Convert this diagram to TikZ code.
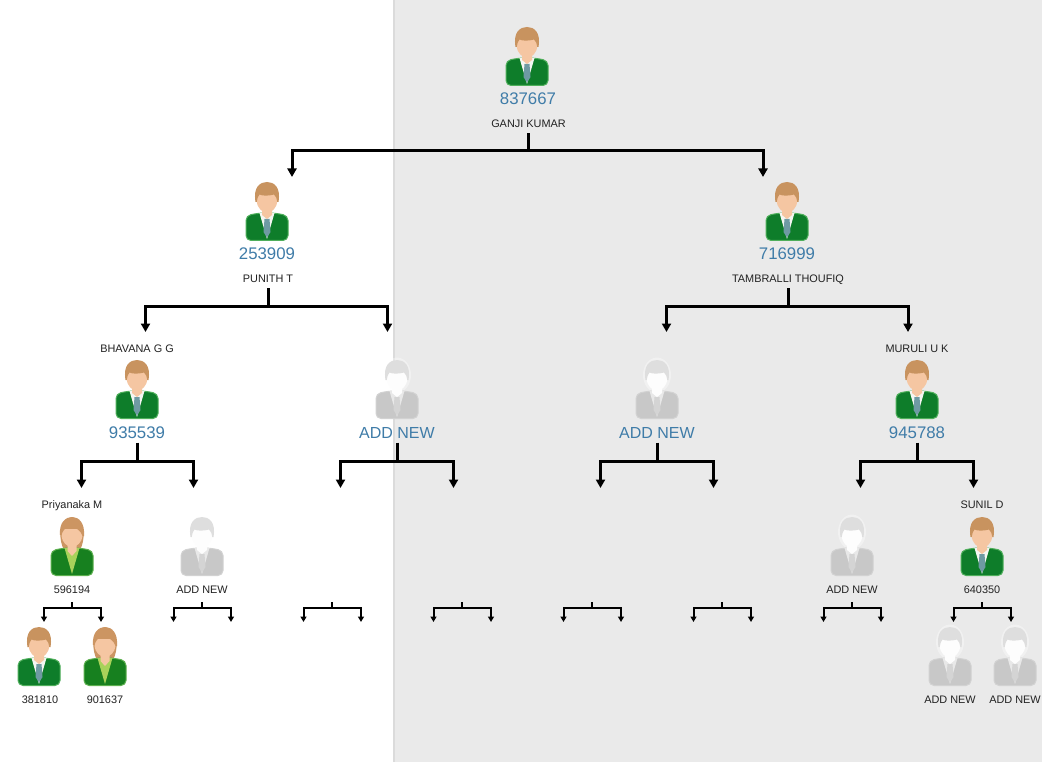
\documentclass[tikz,border=0pt]{standalone}
\usepackage{fontspec}
\setmainfont{Liberation Sans}
\usetikzlibrary{arrows.meta}
\definecolor{pagegrey}{HTML}{EAEAEA}
\definecolor{idblue}{HTML}{3F7CA8}
\definecolor{inktext}{HTML}{222222}
\tikzset{
  x=1pt,y=-1pt,
  iconbox/.style={minimum width=42pt,minimum height=59pt,inner sep=0pt,anchor=north},
  smalltext/.style={anchor=base,font=\fontsize{10.9}{12}\selectfont,text=inktext,inner xsep=0pt,inner ysep=5pt,text depth=0pt},
  smallid/.style={smalltext,inner ysep=9pt},
  bigid/.style={anchor=base,font=\fontsize{16.8}{19}\selectfont,text=idblue,inner xsep=0pt,inner ysep=4pt,text depth=0pt},
  bigadd/.style={bigid,font=\fontsize{16}{19}\selectfont},
  stemthick/.style={line width=3pt,black},
  tipthick/.style={line width=3pt,black,line join=miter,-{Triangle[width=9pt,length=8.5pt]}},
  stemthin/.style={line width=2pt,black},
  tipthin/.style={line width=2pt,black,line join=miter,-{Triangle[width=6pt,length=5.5pt]}},
}
% icon colour sets
\newcommand{\setman}{\definecolor{icbody}{HTML}{0E7D2A}\definecolor{icedge}{HTML}{4FAF5B}\definecolor{icshirt}{HTML}{F4F6F2}\definecolor{ictie}{HTML}{6E9AA3}\definecolor{ichair}{HTML}{C8935F}\definecolor{icskin}{HTML}{F5C6A2}}
\newcommand{\setghost}{\definecolor{icbody}{HTML}{C8C8C8}\definecolor{icedge}{HTML}{D2D2D2}\definecolor{icshirt}{HTML}{E8E8E8}\definecolor{ictie}{HTML}{D4D4D4}\definecolor{ichair}{HTML}{DEDEDE}\definecolor{icskin}{HTML}{FDFDFD}}
\newcommand{\setwoman}{\definecolor{icbody}{HTML}{17801F}\definecolor{icedge}{HTML}{5DB04F}\definecolor{icshirt}{HTML}{A8D25A}\definecolor{ictie}{HTML}{A8D25A}\definecolor{ichair}{HTML}{CC9562}\definecolor{icskin}{HTML}{F5C6A2}}
\newcommand{\bodyshape}{
  \fill[icbody,draw=icedge,line width=1pt,rounded corners=5pt] (-7,31) -- (-21,33.5) -- (-21,58.5) -- (21,58.5) -- (21,33.5) -- (7,31) -- cycle;
}
\newcommand{\manhead}{
  \fill[icshirt] (-7.5,31) -- (0,57) -- (7.5,31) -- cycle;
  \fill[ictie] (-2.5,37) -- (2.5,37) -- (3.5,50) -- (0,55.5) -- (-3.5,50) -- cycle;
  \fill[icskin] (-5,24) -- (-5,33) -- (0,37) -- (5,33) -- (5,24) -- cycle;
  \fill[icskin] (-10.5,12) -- (-10.5,19) .. controls (-10,25) and (-5,31) .. (0,31) .. controls (5,31) and (10,25) .. (10.5,19) -- (10.5,12) -- cycle;
  \fill[ichair] (-11.5,20) .. controls (-14,5) and (-7,0) .. (0,0) .. controls (7,0) and (14,5) .. (11.5,20) -- (10.3,20) .. controls (10,17) and (9,14) .. (7,12.5) .. controls (2,14) and (-5,14) .. (-7.5,12.5) .. controls (-9,14) and (-10,17) .. (-10.3,20) -- cycle;
}
\newcommand{\womanhead}{
  \fill[ichair] (-8,33) .. controls (-13,24) and (-15,3) .. (0,0) .. controls (15,3) and (13,24) .. (8,33) -- cycle;
  \bodyshape
  \fill[icshirt] (-7.5,31) -- (0,57) -- (7.5,31) -- cycle;
  \fill[icskin] (-4.5,24) -- (-4.5,34) -- (0,39) -- (4.5,34) -- (4.5,24) -- cycle;
  \fill[icskin] (-10.5,12) -- (-10.5,19) .. controls (-10,25) and (-5,30) .. (0,30) .. controls (5,30) and (10,25) .. (10.5,19) -- (10.5,12) -- cycle;
  \fill[ichair] (-12,18) .. controls (-13,5) and (-6,0) .. (0,0) .. controls (7,0) and (13,6) .. (12,19) -- (10.5,19) .. controls (9,14) and (4,10) .. (-3,9) .. controls (-7,11) and (-9.5,14) .. (-10.5,18) -- cycle;
}
% person: name, x, top y
\newcommand{\man}[3]{\node[iconbox] (#1) at (#2,#3) {};
  \begin{scope}[shift={(#2,#3)}]\setman\bodyshape\manhead\end{scope}}
\newcommand{\woman}[3]{\node[iconbox] (#1) at (#2,#3) {};
  \begin{scope}[shift={(#2,#3)}]\setwoman\womanhead\end{scope}}
\newcommand{\ghost}[3]{\node[iconbox] (#1) at (#2,#3) {};
  \begin{scope}[shift={(#2,#3)}]\setghost
    \fill[white,opacity=.35] (0,15) ellipse [x radius=14,y radius=17.5];
    \bodyshape\manhead\end{scope}}
% bracket: from, id, xl, xr, ybar, ytip, style suffix
\newcommand{\bracket}[7]{
  \coordinate (#2L) at (#3,#6);
  \coordinate (#2R) at (#4,#6);
  \draw[stem#7] (#1) -- (#1 |- 0,#5);
  \draw[tip#7] (#1 |- 0,#5) -| (#2L);
  \draw[tip#7] (#1 |- 0,#5) -| (#2R);
}
\begin{document}
\begin{tikzpicture}
\useasboundingbox (0,0) rectangle (1042,762);
\fill[white] (0,0) rectangle (1042,762);
\fill[pagegrey] (394,0) rectangle (1042,762);
\fill[black!14] (393.2,0) rectangle (394.8,762);

% icons
\man{p1}{527}{27}
\man{p2}{267}{182}
\man{p3}{787}{182}
\man{p4}{137}{360}
\ghost{p5}{397}{360}
\ghost{p6}{657}{360}
\man{p7}{917}{360}
\woman{p8}{72}{517}
\ghost{p9}{202}{517}
\ghost{p10}{852}{517}
\man{p11}{982}{517}
\man{p12}{39}{627}
\woman{p13}{105}{627}
\ghost{p14}{950}{627}
\ghost{p15}{1015}{627}

% labels
\node[bigid] (i1) at (528,104.5) {837667};
\node[smalltext] (n1) at (528.5,128) {GANJI KUMAR};
\node[bigid] (i2) at (267,259.5) {253909};
\node[smalltext] (n2) at (268,283) {PUNITH T};
\node[bigid] (i3) at (787,259.5) {716999};
\node[smalltext] (n3) at (788,283) {TAMBRALLI THOUFIQ};
\node[smalltext] (n4) at (137,352) {BHAVANA G G};
\node[bigid] (i4) at (137,438.5) {935539};
\node[bigadd] (i5) at (397,438.5) {ADD NEW};
\node[bigadd] (i6) at (657,438.5) {ADD NEW};
\node[smalltext] (n7) at (917,352) {MURULI U K};
\node[bigid] (i7) at (917,438.5) {945788};
\node[smalltext] (n8) at (72,508) {Priyanaka M};
\node[smallid] (i8) at (72,593) {596194};
\node[smallid] (i9) at (202,593) {ADD NEW};
\node[smallid] (i10) at (852,593) {ADD NEW};
\node[smalltext] (n11) at (982,508) {SUNIL D};
\node[smallid] (i11) at (982,593) {640350};
\node[smalltext] (i12) at (40,703) {381810};
\node[smalltext] (i13) at (105,703) {901637};
\node[smalltext] (i14) at (950,703) {ADD NEW};
\node[smalltext] (i15) at (1015,703) {ADD NEW};

% free stem tops
\coordinate (s1) at (332,602);
\coordinate (s2) at (462,602);
\coordinate (s3) at (592,602);
\coordinate (s4) at (722,602);

% connectors
\bracket{n1.south}{b1}{292}{763}{151}{177}{thick}
\bracket{n2.south}{b2}{145.5}{387.5}{306}{332}{thick}
\bracket{n3.south}{b3}{666.5}{908}{306}{332}{thick}
\bracket{i4.south}{b4}{81.5}{193.5}{461}{488}{thick}
\bracket{i5.south}{b5}{340.5}{453.5}{461}{488}{thick}
\bracket{i6.south}{b6}{600.5}{713.5}{461}{488}{thick}
\bracket{i7.south}{b7}{860.5}{973.5}{461}{488}{thick}
\bracket{i8.south}{b8}{44}{101}{608}{622}{thin}
\bracket{i9.south}{b9}{173.5}{231}{608}{622}{thin}
\bracket{s1}{b10}{303.5}{361}{608}{622}{thin}
\bracket{s2}{b11}{433.5}{491}{608}{622}{thin}
\bracket{s3}{b12}{563.5}{621}{608}{622}{thin}
\bracket{s4}{b13}{693.5}{751}{608}{622}{thin}
\bracket{i10.south}{b14}{823.5}{881}{608}{622}{thin}
\bracket{i11.south}{b15}{953.5}{1011}{608}{622}{thin}
\end{tikzpicture}
\end{document}
